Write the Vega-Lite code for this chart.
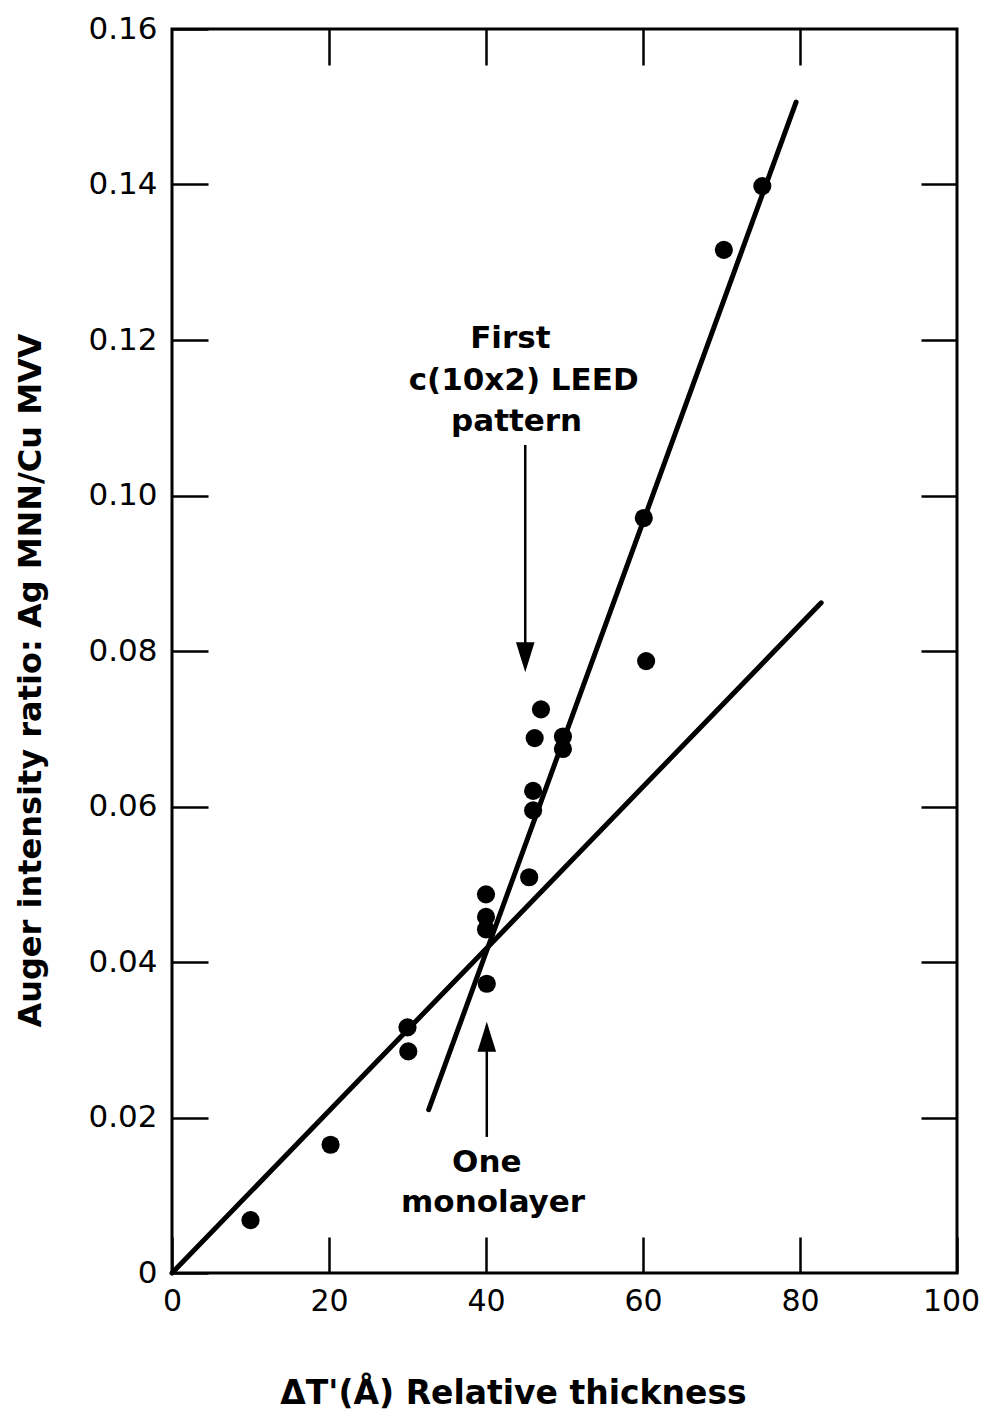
{
  "$schema": "https://vega.github.io/schema/vega-lite/v6.json",
  "width": 785,
  "height": 1244,
  "autosize": {"type": "none"},
  "padding": {"left": 172, "top": 29, "right": 28, "bottom": 147},
  "background": "white",
  "config": {
    "view": {"stroke": "black", "strokeWidth": 3},
    "font": "DejaVu Sans",
    "axis": {
      "domain": false,
      "grid": false,
      "tickColor": "black",
      "tickWidth": 2.5,
      "tickSize": -36,
      "labelColor": "black",
      "titleColor": "black",
      "labelFlush": false,
      "labelFont": "DejaVu Sans",
      "titleFont": "DejaVu Sans"
    }
  },
  "datasets": {
    "points": [
      {"thickness": 10.0, "ratio": 0.0068},
      {"thickness": 20.2, "ratio": 0.0165},
      {"thickness": 30.0, "ratio": 0.0316},
      {"thickness": 30.1, "ratio": 0.0285},
      {"thickness": 40.0, "ratio": 0.0487},
      {"thickness": 40.0, "ratio": 0.0458},
      {"thickness": 40.0, "ratio": 0.0442},
      {"thickness": 40.1, "ratio": 0.0372},
      {"thickness": 45.5, "ratio": 0.0509},
      {"thickness": 46.0, "ratio": 0.0595},
      {"thickness": 46.0, "ratio": 0.0620},
      {"thickness": 46.2, "ratio": 0.0688},
      {"thickness": 47.0, "ratio": 0.0725},
      {"thickness": 49.8, "ratio": 0.0690},
      {"thickness": 49.8, "ratio": 0.0674},
      {"thickness": 60.1, "ratio": 0.0971},
      {"thickness": 60.4, "ratio": 0.0787},
      {"thickness": 70.3, "ratio": 0.1316},
      {"thickness": 75.2, "ratio": 0.1398}
    ],
    "fits": [
      {"x1": 0, "y1": 0, "x2": 82.7, "y2": 0.0862},
      {"x1": 32.7, "y1": 0.021, "x2": 79.5, "y2": 0.1506}
    ],
    "shafts": [
      {"x": 45.0, "y1": 0.1065, "y2": 0.081},
      {"x": 40.1, "y1": 0.0175, "y2": 0.030}
    ],
    "heads": [
      {"x": 45.0, "y": 0.0792, "dir": "down"},
      {"x": 40.1, "y": 0.0304, "dir": "up"}
    ],
    "notes": [
      {"x": 43.1, "y": 0.1201, "label": "First"},
      {"x": 44.8, "y": 0.1147, "label": "c(10x2) LEED"},
      {"x": 43.9, "y": 0.1095, "label": "pattern"},
      {"x": 40.1, "y": 0.0142, "label": "One"},
      {"x": 40.9, "y": 0.0090, "label": "monolayer"}
    ]
  },
  "layer": [
    {
      "data": {"name": "points"},
      "mark": {"type": "point", "filled": true, "shape": "circle", "size": 330, "color": "black", "opacity": 1},
      "encoding": {
        "x": {
          "field": "thickness", "type": "quantitative",
          "scale": {"domain": [0, 100], "nice": false, "zero": false},
          "axis": {
            "orient": "bottom",
            "values": [0, 20, 40, 60, 80, 100],
            "labelFontSize": 30,
            "labelPadding": 49,
            "labelBaseline": "top",
            "labelOffset": {"condition": {"test": "datum.value == 100", "value": -6}, "value": 0},
            "title": "ΔT'(Å) Relative thickness",
            "titleFontSize": 33,
            "titleFontWeight": "bold",
            "titleX": 341,
            "titleY": 120,
            "titleBaseline": "middle",
            "titleAnchor": null,
            "titleAlign": "center"
          }
        },
        "y": {
          "field": "ratio", "type": "quantitative",
          "scale": {"domain": [0, 0.16], "nice": false, "zero": false},
          "axis": {
            "orient": "left",
            "values": [0, 0.02, 0.04, 0.06, 0.08, 0.1, 0.12, 0.14, 0.16],
            "labelExpr": "datum.value == 0 ? '0' : format(datum.value, '.2f')",
            "labelFontSize": 31,
            "labelPadding": 51,
            "title": "Auger intensity ratio: Ag MNN/Cu MVV",
            "titleFontSize": 32,
            "titleFontWeight": "bold",
            "titleAngle": -90,
            "titleX": -142,
            "titleY": 651,
            "titleBaseline": "middle",
            "titleAlign": "center",
            "titleAnchor": null
          }
        }
      }
    },
    {
      "data": {"name": "fits"},
      "mark": {"type": "rule", "color": "black", "strokeWidth": 5, "strokeCap": "round"},
      "encoding": {
        "x": {
          "field": "x1", "type": "quantitative",
          "axis": {"orient": "top", "values": [20, 40, 60, 80], "labels": false, "title": null}
        },
        "y": {
          "field": "y1", "type": "quantitative",
          "axis": {"orient": "right", "values": [0.02, 0.04, 0.06, 0.08, 0.1, 0.12, 0.14], "labels": false, "title": null}
        },
        "x2": {"field": "x2"},
        "y2": {"field": "y2"}
      }
    },
    {
      "data": {"name": "shafts"},
      "mark": {"type": "rule", "color": "black", "strokeWidth": 2.5},
      "encoding": {
        "x": {"field": "x", "type": "quantitative", "axis": null},
        "y": {"field": "y1", "type": "quantitative", "axis": null},
        "y2": {"field": "y2"}
      }
    },
    {
      "data": {"name": "heads"},
      "mark": {"type": "point", "filled": true, "color": "black", "opacity": 1, "size": 900},
      "encoding": {
        "x": {"field": "x", "type": "quantitative", "axis": null},
        "y": {"field": "y", "type": "quantitative", "axis": null},
        "shape": {
          "field": "dir", "type": "nominal", "legend": null,
          "scale": {"domain": ["down", "up"], "range": ["M-0.62,-1L0.62,-1L0,1Z", "M-0.62,1L0.62,1L0,-1Z"]}
        }
      }
    },
    {
      "data": {"name": "notes"},
      "mark": {"type": "text", "font": "DejaVu Sans", "fontSize": 31, "fontWeight": "bold", "color": "black", "align": "center", "baseline": "middle"},
      "encoding": {
        "x": {"field": "x", "type": "quantitative", "axis": null},
        "y": {"field": "y", "type": "quantitative", "axis": null},
        "text": {"field": "label"}
      }
    }
  ],
  "resolve": {"axis": {"x": "independent", "y": "independent"}}
}
